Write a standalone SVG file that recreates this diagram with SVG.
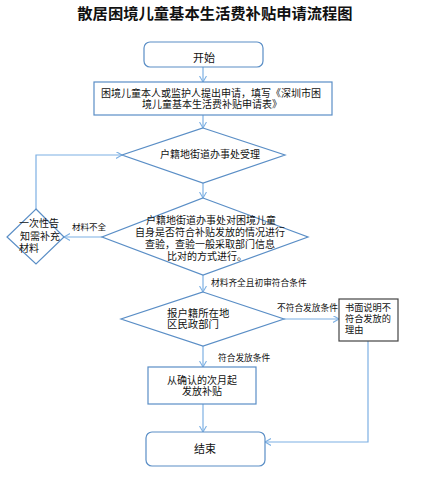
<svg xmlns="http://www.w3.org/2000/svg" width="422" height="490" viewBox="0 0 422 490">
<style>
.shape{fill:#fff;stroke:#5a8ec6;stroke-width:1.2}
.gray{fill:#fff;stroke:#444;stroke-width:1.2}
.conn{fill:none;stroke:#7db0e3;stroke-width:1.2}
text{font-family:"Noto Sans CJK SC","Noto Sans",sans-serif;fill:#111}
.t10{font-size:10px}
.t11{font-size:11px}
.t9{font-size:8.7px}
.mid{text-anchor:middle}
</style>
<defs>
<marker id="ah" markerWidth="8" markerHeight="8" refX="6" refY="3.5" orient="auto" markerUnits="userSpaceOnUse">
<path d="M0,0 L6,3.5 L0,7" fill="none" stroke="#7db0e3" stroke-width="1.1"/>
</marker>
</defs>
<rect width="422" height="490" fill="#fff"/>
<text x="215" y="19" class="mid" style="font-size:15.3px;font-weight:bold">散居困境儿童基本生活费补贴申请流程图</text>

<g id="connectors">
<line class="conn" x1="203" y1="67" x2="203" y2="82" marker-end="url(#ah)"/>
<line class="conn" x1="203" y1="115" x2="203" y2="128" marker-end="url(#ah)"/>
<line class="conn" x1="203" y1="183" x2="203" y2="198" marker-end="url(#ah)"/>
<line class="conn" x1="102" y1="237" x2="64" y2="237" marker-end="url(#ah)"/>
<polyline class="conn" points="36,209 36,155 122,155" marker-end="url(#ah)"/>
<line class="conn" x1="203" y1="275" x2="203" y2="292" marker-end="url(#ah)"/>
<line class="conn" x1="284" y1="319" x2="339" y2="319" marker-end="url(#ah)"/>
<line class="conn" x1="203" y1="346" x2="203" y2="367" marker-end="url(#ah)"/>
<line class="conn" x1="203" y1="404" x2="203" y2="432" marker-end="url(#ah)"/>
<polyline class="conn" points="368,341 368,442 265,442" marker-end="url(#ah)"/>
<text x="72" y="230" class="t9" style="font-size:8.5px">材料不全</text>
<text x="211" y="286" class="t9">材料齐全且初审符合条件</text>
<text x="277" y="311" class="t9">不符合发放条件</text>
<text x="218" y="361" class="t9">符合发放条件</text>
</g>

<g id="start">
<rect class="shape" x="144" y="42" width="119" height="25" rx="6"/>
<text x="204" y="61.5" class="t11 mid">开始</text>
</g>

<g id="apply">
<rect class="shape" x="94" y="82" width="238" height="33"/>
<text x="211" y="96.5" class="t10 mid">困境儿童本人或监护人提出申请，填写《深圳市困</text>
<text x="212" y="107.5" class="t10 mid">境儿童基本生活费补贴申请表》</text>
</g>

<g id="accept">
<polygon class="shape" points="203,128 285,155 203,183 122,155"/>
<text x="210" y="157.5" class="t10 mid">户籍地街道办事处受理</text>
</g>

<g id="check">
<polygon class="shape" points="203,198 308,237 203,275 102,237"/>
<text x="211" y="223.5" class="t10 mid">户籍地街道办事处对困境儿童</text>
<text x="210" y="235.5" class="t10 mid">自身是否符合补贴发放的情况进行</text>
<text x="210" y="247.5" class="t10 mid">查验，查验一般采取部门信息</text>
<text x="207" y="259.5" class="t10 mid">比对的方式进行。</text>
</g>

<g id="notify">
<polygon class="shape" points="36,209 64,237 36,264 7,237"/>
<text x="19" y="226.5" class="t10">一次性告</text>
<text x="20" y="239.5" class="t10">知需补充</text>
<text x="19" y="251.5" class="t10">材料</text>
</g>

<g id="civil">
<polygon class="shape" points="203,292 284,319 203,346 121,319"/>
<text x="167" y="316.5" style="font-size:10.4px">报户籍所在地</text>
<text x="167" y="328" style="font-size:10.4px">区民政部门</text>
</g>

<g id="reject">
<rect class="gray" x="339" y="299" width="59" height="42"/>
<text x="345" y="311" style="font-size:9.2px">书面说明不</text>
<text x="345" y="322" style="font-size:9.2px">符合发放的</text>
<text x="345" y="333" style="font-size:9.2px">理由</text>
</g>

<g id="grant">
<rect class="shape" x="148" y="367" width="108" height="37"/>
<text x="202" y="383.5" class="t10 mid">从确认的次月起</text>
<text x="202" y="394.5" class="t10 mid">发放补贴</text>
</g>

<g id="end">
<rect class="shape" x="146" y="432" width="119" height="34" rx="6"/>
<text x="205" y="453" class="t11 mid">结束</text>
</g>
</svg>
